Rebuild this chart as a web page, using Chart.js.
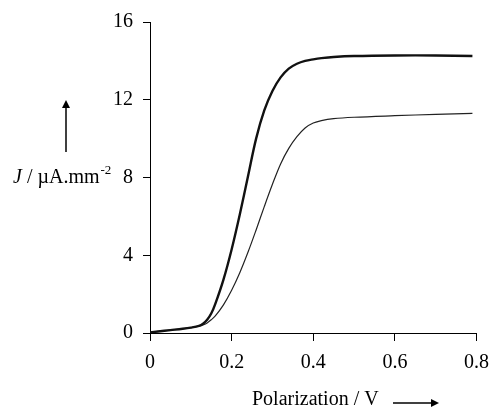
<!DOCTYPE html>
<html>
<head>
<meta charset="utf-8">
<script src="https://cdn.jsdelivr.net/npm/chart.js@4/dist/chart.umd.min.js"></script>
<style>
  html, body { margin: 0; padding: 0; background: #fff; }
  #wrap { width: 499px; height: 410px; }
</style>
</head>
<body>
<div id="wrap"><canvas id="polCurve" width="499" height="410"></canvas></div>
<script>
// polarization (V) sample points
const voltage = [0, 0.02, 0.05, 0.08, 0.10, 0.12, 0.13, 0.14, 0.15, 0.16, 0.18, 0.20, 0.22, 0.24, 0.26, 0.28, 0.30, 0.32, 0.34, 0.36, 0.38, 0.40, 0.42, 0.45, 0.50, 0.60, 0.70, 0.79];
// thick curve (upper plateau ~14.3)
const currentThick = [0.03, 0.08, 0.15, 0.22, 0.28, 0.37, 0.48, 0.68, 1.0, 1.5, 2.75, 4.3, 6.1, 8.05, 10.0, 11.45, 12.45, 13.15, 13.6, 13.85, 14.0, 14.08, 14.14, 14.2, 14.25, 14.28, 14.28, 14.25];
// thin curve (lower plateau ~11.3)
const currentThin = [0.03, 0.08, 0.15, 0.22, 0.28, 0.35, 0.42, 0.52, 0.68, 0.88, 1.45, 2.2, 3.1, 4.15, 5.3, 6.5, 7.65, 8.7, 9.5, 10.1, 10.55, 10.8, 10.93, 11.03, 11.1, 11.18, 11.25, 11.3];

const xTicks = [0, 0.2, 0.4, 0.6, 0.8];
const yTicks = [0, 4, 8, 12, 16];

const serif = "'Liberation Serif', 'Times New Roman', serif";

function toPoints(xs, ys) {
  return xs.map((x, i) => ({ x: x, y: ys[i] }));
}

function arrow(ctx, x1, y1, x2, y2) {
  const ang = Math.atan2(y2 - y1, x2 - x1);
  const head = 8;
  const half = 4;
  ctx.save();
  ctx.strokeStyle = '#000';
  ctx.fillStyle = '#000';
  ctx.lineWidth = 1.5;
  ctx.beginPath();
  ctx.moveTo(x1, y1);
  ctx.lineTo(x2 - Math.cos(ang) * head * 0.8, y2 - Math.sin(ang) * head * 0.8);
  ctx.stroke();
  ctx.beginPath();
  ctx.moveTo(x2, y2);
  ctx.lineTo(x2 - head * Math.cos(ang) + half * Math.sin(ang), y2 - head * Math.sin(ang) - half * Math.cos(ang));
  ctx.lineTo(x2 - head * Math.cos(ang) - half * Math.sin(ang), y2 - head * Math.sin(ang) + half * Math.cos(ang));
  ctx.closePath();
  ctx.fill();
  ctx.restore();
}

// axis titles and arrows drawn by hand, like the original figure
const axisDecor = {
  id: 'axisDecor',
  afterDraw(chart) {
    const ctx = chart.ctx;
    ctx.save();
    ctx.fillStyle = '#000';
    ctx.textBaseline = 'middle';

    // y title: J / µA.mm-2
    let x = 13;
    const y = 178;
    ctx.font = 'italic 20px ' + serif;
    ctx.textAlign = 'left';
    ctx.fillText('J', x, y);
    x += ctx.measureText('J').width;
    ctx.font = '20px ' + serif;
    ctx.fillText(' / µA.mm', x, y);
    x += ctx.measureText(' / µA.mm').width;
    ctx.font = '13px ' + serif;
    ctx.fillText('-2', x + 1, y - 7);

    // x title
    ctx.font = '20px ' + serif;
    ctx.fillText('Polarization / V', 252, 400);
    ctx.restore();

    arrow(ctx, 66, 152, 66, 100);
    arrow(ctx, 393, 403, 439, 403);
  }
};

const ctx = document.getElementById('polCurve').getContext('2d');
new Chart(ctx, {
  type: 'scatter',
  data: {
    datasets: [{
      label: 'thick',
      data: toPoints(voltage, currentThick),
      showLine: true,
      borderColor: '#111',
      borderWidth: 2.4,
      pointRadius: 0,
      tension: 0.35
    }, {
      label: 'thin',
      data: toPoints(voltage, currentThin),
      showLine: true,
      borderColor: '#222',
      borderWidth: 1.2,
      pointRadius: 0,
      tension: 0.35
    }]
  },
  options: {
    responsive: false,
    animation: false,
    layout: { padding: { left: 0, top: 22, right: 15, bottom: 0 } },
    plugins: {
      legend: { display: false },
      tooltip: { enabled: false }
    },
    scales: {
      x: {
        type: 'linear',
        min: 0, max: 0.8,
        afterBuildTicks: s => { s.ticks = xTicks.map(v => ({ value: v })); },
        afterFit: s => { s.height = 77; },
        grid: { display: true, drawOnChartArea: false, drawTicks: true, tickLength: 8, color: '#000' },
        border: { display: true, color: '#000', width: 1 },
        ticks: {
          color: '#000',
          padding: 10,
          maxRotation: 0,
          font: { family: serif, size: 20 },
          callback: v => String(v)
        }
      },
      y: {
        type: 'linear',
        min: 0, max: 16,
        afterBuildTicks: s => { s.ticks = yTicks.map(v => ({ value: v })); },
        afterFit: s => { s.width = 150; },
        grid: { display: true, drawOnChartArea: false, drawTicks: true, tickLength: 7, color: '#000' },
        border: { display: true, color: '#000', width: 1 },
        ticks: {
          color: '#000',
          padding: 10,
          font: { family: serif, size: 20 },
          callback: v => String(v)
        }
      }
    }
  },
  plugins: [axisDecor]
});
</script>
</body>
</html>
